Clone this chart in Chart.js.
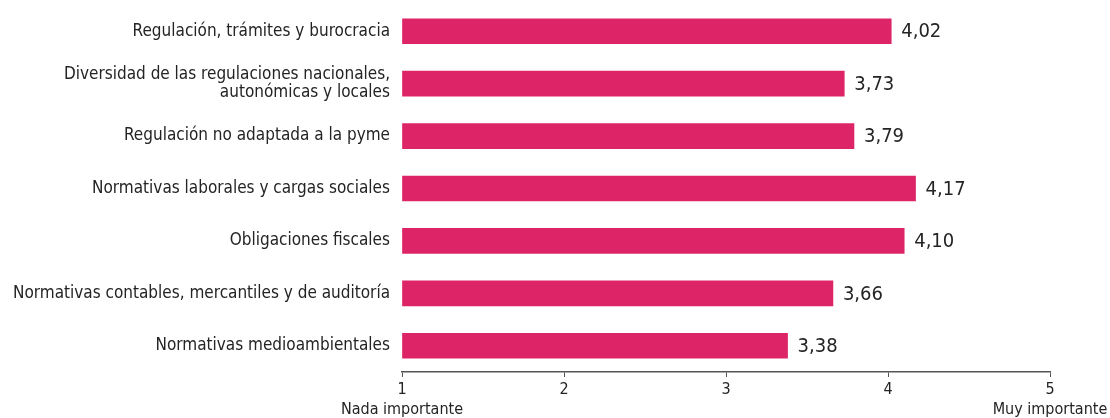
<!DOCTYPE html>
<html>
<head>
<meta charset="utf-8">
<script src="https://cdn.jsdelivr.net/npm/chart.js@4"></script>
<style>
  html, body { margin: 0; padding: 0; background: #fff; }
  #wrap { width: 1110px; height: 418px; }
</style>
</head>
<body>
<div id="wrap"><canvas id="obstaculos"></canvas></div>
<script>
// Categorías (multilínea donde hace falta) y valoraciones medias
var categorias = [
  "Regulación, trámites y burocracia",
  ["Diversidad de las regulaciones nacionales,", "autonómicas y locales"],
  "Regulación no adaptada a la pyme",
  "Normativas laborales y cargas sociales",
  "Obligaciones fiscales",
  "Normativas contables, mercantiles y de auditoría",
  "Normativas medioambientales"
];
var valoraciones = [4.02, 3.73, 3.79, 4.17, 4.10, 3.66, 3.38];
var escalaMin = 1;
var escalaMax = 5;
var extremos = { 1: "Nada importante", 5: "Muy importante" };

var fuente = "'Liberation Sans Narrow', 'DejaVu Sans Condensed', 'Arial Narrow', sans-serif";
var rosa = "#DD2466";
var texto = "#242424";

// Escribe el valor al final de cada barra, con coma decimal
var etiquetasValor = {
  id: "etiquetasValor",
  afterDatasetsDraw: function (chart) {
    var ctx = chart.ctx;
    var meta = chart.getDatasetMeta(0);
    ctx.save();
    ctx.font = "20px " + fuente;
    ctx.fillStyle = texto;
    ctx.textAlign = "left";
    ctx.textBaseline = "middle";
    meta.data.forEach(function (bar, i) {
      var txt = valoraciones[i].toFixed(2).replace(".", ",");
      ctx.fillText(txt, bar.x + 10, bar.y + 1);
    });
    ctx.restore();
  }
};

var ctx = document.getElementById("obstaculos").getContext("2d");
var grafico = new Chart(ctx, {
  type: "bar",
  data: {
    labels: categorias,
    datasets: [
      {
        data: valoraciones,
        backgroundColor: rosa,
        borderWidth: 0,
        barThickness: 25,
        base: escalaMin
      }
    ]
  },
  options: {
    indexAxis: "y",
    responsive: true,
    maintainAspectRatio: false,
    animation: false,
    layout: {
      padding: { top: 5, right: 60, bottom: 0, left: 0 }
    },
    scales: {
      x: {
        min: escalaMin,
        max: escalaMax,
        grid: {
          drawOnChartArea: false,
          drawTicks: true,
          tickLength: 5,
          color: "#555"
        },
        border: { display: true, color: "#555", width: 1.5 },
        ticks: {
          stepSize: 1,
          maxRotation: 0,
          padding: 2,
          color: texto,
          font: { family: fuente, size: 16, lineHeight: 1.3 },
          callback: function (v) {
            return extremos[v] ? [String(v), extremos[v]] : String(v);
          }
        },
        afterFit: function (scale) {
          scale.height = 46;
        }
      },
      y: {
        grid: { display: false, drawTicks: false },
        border: { display: false },
        ticks: {
          padding: 12,
          color: texto,
          font: { family: fuente, size: 17, lineHeight: 1.05 }
        },
        afterFit: function (scale) {
          scale.width = 402;
          scale.paddingTop = 0;
          scale.paddingBottom = 0;
        }
      }
    },
    plugins: {
      legend: { display: false },
      tooltip: { enabled: false }
    }
  },
  plugins: [etiquetasValor]
});
</script>
</body>
</html>
